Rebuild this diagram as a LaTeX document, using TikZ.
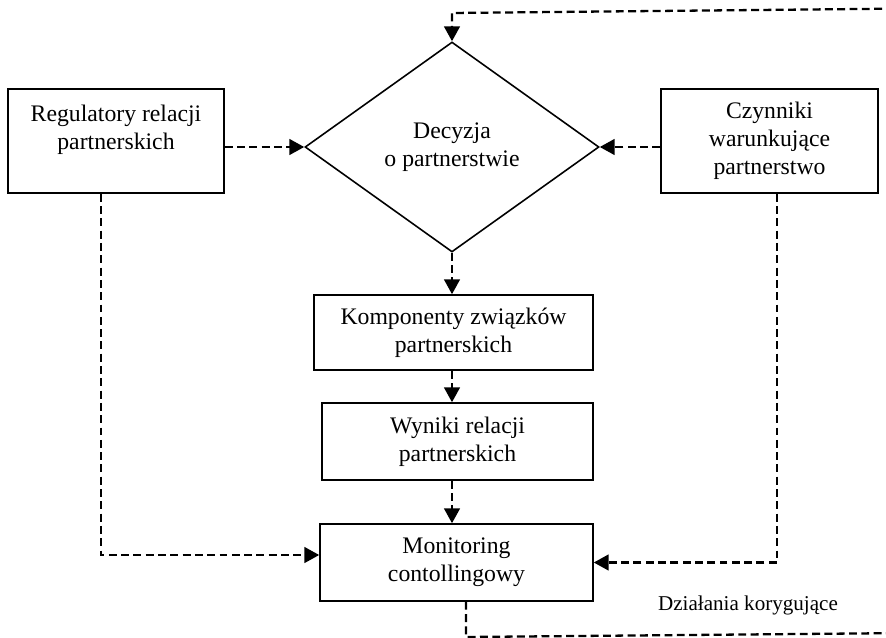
\documentclass[tikz,border=0pt]{standalone}
\usepackage{fontspec}
\setmainfont{Liberation Serif}
\usetikzlibrary{shapes.geometric,arrows.meta}
\tikzstyle{block}=[draw, line width=.9pt, align=center, inner sep=2pt, font=\fontsize{13.5}{15.9}\selectfont]
\tikzstyle{decision}=[draw, diamond, aspect=1.4, line width=.9pt, align=center, inner sep=1pt, minimum width=5.88cm, minimum height=4.2cm, font=\fontsize{13.5}{15.9}\selectfont]
\tikzstyle{flow}=[->, dash pattern=on 4.5pt off 2.5pt, line width=1.3pt]

\begin{document}
\begin{tikzpicture}[>={Triangle[length=8.5pt,width=9pt]}]
    \useasboundingbox (0,0) rectangle (17.72,-12.76);
    \clip (0,0) rectangle (17.72,-12.76);

    % Decision
    \draw (9.04,-2.94) node[decision] (dec) {Decyzja\\o partnerstwie};

    % Side boxes
    \draw (2.32,-2.82) node[block, minimum width=4.32cm, minimum height=2.08cm] (reg) {Regulatory relacji\\partnerskich\\\mbox{}};
    \draw (15.39,-2.82) node[block, minimum width=4.34cm, minimum height=2.08cm] (czyn) {Czynniki\\warunkujące\\partnerstwo};

    % Main column
    \draw (9.07,-6.65) node[block, minimum width=5.58cm, minimum height=1.5cm] (komp) {Komponenty związków\\partnerskich};
    \draw (9.15,-8.83) node[block, minimum width=5.42cm, minimum height=1.54cm] (wyn) {Wyniki relacji\\partnerskich};
    \draw (9.13,-11.25) node[block, minimum width=5.46cm, minimum height=1.54cm] (mon) {Monitoring\\contollingowy};
    \draw (14.96,-12.1) node[font=\fontsize{12}{14}\selectfont] (kor) {Działania korygujące};

    % Flows
    \draw[flow] (reg.east |- dec.west) -- (dec.west);
    \draw[flow] (czyn.west |- dec.east) -- (dec.east);
    \draw[flow] (dec.south) -- (komp.north -| dec.south);
    \draw[flow] (komp.south -| dec.south) -- (wyn.north -| dec.south);
    \draw[flow] (wyn.south -| dec.south) -- (mon.north -| dec.south);
    \draw[flow] ([xshift=-.3cm]reg.south) |- ([yshift=.15cm]mon.west);
    \draw[flow] ([xshift=.15cm]czyn.south) |- (mon.east);

    % Feedback loop
    \coordinate (loopB) at (9.32,-12.74);
    \coordinate (loopBR) at (18.2,-12.66);
    \coordinate (loopTR) at (18.2,-0.17);
    \coordinate (loopT) at (9.04,-0.26);
    \draw[flow] (mon.south -| loopB) -- (loopB) -- (loopBR) -- (loopTR) -- (loopT) -- (dec.north);

\end{tikzpicture}
\end{document}
